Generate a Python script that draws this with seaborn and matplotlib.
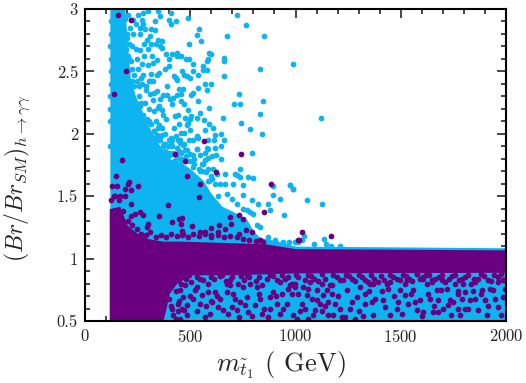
import numpy as np
import pandas as pd
import matplotlib
matplotlib.use('Agg')
import matplotlib.pyplot as plt
from matplotlib.ticker import MultipleLocator, FuncFormatter
import seaborn as sns

# Colours and ticks
blue_col = '#0EB4F0'
purple_col = '#6A0080'

# The solid areas can't be read point by point, so they are kept as envelopes
blue_env_x = [118, 190, 200, 215, 240, 280, 320, 350, 400, 450, 500, 560, 600, 650, 700, 770, 800, 830, 930, 1000, 2000]
blue_env_hi = [3.0, 3.0, 2.75, 2.45, 2.3, 2.15, 2.0, 1.92, 1.80, 1.78, 1.72, 1.63, 1.52, 1.42, 1.38, 1.31, 1.22, 1.17, 1.135, 1.10, 1.087]

purple_env_x = [115, 165, 200, 250, 300, 370, 450, 850, 1000, 2000]
purple_env_hi = [1.40, 1.42, 1.27, 1.20, 1.16, 1.14, 1.14, 1.12, 1.08, 1.07]
purple_low_x = [115, 370, 385, 400, 435, 500, 700, 1000, 2000]
purple_low_y = [0.5, 0.5, 0.60, 0.72, 0.80, 0.87, 0.87, 0.885, 0.89]

# Scattered points
blue_x = [720, 763, 673, 849, 988, 831, 659, 730, 845, 709, 738, 831, 654, 743, 785, 842, 647, 616, 609, 659,
          646, 614, 586, 617, 792, 736, 646, 622, 578, 534, 571, 587, 565, 589, 537, 578, 570, 598, 538, 659,
          662, 589, 597, 584, 578, 560, 581, 562, 541, 533, 552, 495, 489, 410, 434, 408, 400, 356, 331, 347,
          499, 477, 503, 533, 546, 491, 454, 472, 439, 467, 448, 511, 505, 458, 391, 431, 423, 437, 459, 470,
          499, 484, 513, 537, 382, 399, 350, 313, 277, 344, 325, 304, 385, 401, 415, 437, 435, 458, 480, 492,
          515, 321, 344, 348, 364, 339, 356, 367, 312, 285, 261, 332, 309, 277, 271, 299, 277, 253, 229, 356,
          372, 388, 404, 412, 420, 348, 364, 372, 385, 443, 427, 448, 423, 454, 472, 483, 491, 538, 515, 495,
          467, 475, 499, 451, 407, 412, 364, 344, 332, 586, 570, 546, 586, 570, 601, 530, 388, 404, 435, 443,
          610, 586, 554, 515, 451, 1122, 974, 990, 1056, 1124, 1040, 1033, 1135, 1088, 1145, 998, 1012, 1211,
          1171, 205, 215, 230, 210, 225, 240, 205, 220, 245, 262, 280, 295, 315, 270, 250, 235, 205, 225, 255,
          270, 290, 310, 330, 215, 240, 260, 285, 305, 325, 225, 250, 275, 295, 315, 335, 350, 300, 330, 355,
          380, 395, 420, 205, 210, 340, 320, 300, 280, 200, 240, 260, 300, 345, 365, 380, 400, 430, 455, 375,
          420, 480, 520, 380, 450]
blue_y = [2.95, 2.87, 2.78, 2.78, 2.56, 2.52, 2.46, 2.32, 2.26, 2.24, 2.24, 2.16, 2.13, 2.09, 2.04, 2.00, 2.00,
          1.99, 2.05, 1.95, 1.90, 1.95, 1.95, 1.89, 1.85, 1.72, 1.80, 1.83, 1.89, 1.98, 2.03, 2.08, 2.11, 2.21,
          2.26, 2.35, 2.40, 2.40, 2.37, 2.58, 2.61, 2.65, 2.64, 2.60, 2.58, 2.54, 2.51, 2.51, 2.84, 2.79, 2.74,
          2.72, 2.93, 2.97, 2.90, 2.88, 2.91, 2.94, 2.90, 2.98, 2.12, 2.13, 2.14, 2.13, 2.17, 2.19, 2.26, 2.24,
          2.31, 2.36, 2.36, 2.33, 2.31, 2.32, 2.38, 2.45, 2.46, 2.43, 2.50, 2.47, 2.45, 2.46, 2.50, 2.47, 2.52,
          2.54, 2.49, 2.48, 2.47, 2.47, 2.42, 2.42, 2.64, 2.60, 2.64, 2.65, 2.62, 2.62, 2.60, 2.60, 2.56, 2.57,
          2.59, 2.75, 2.74, 2.72, 2.70, 2.69, 2.84, 2.84, 2.80, 2.83, 2.78, 2.88, 2.91, 2.98, 2.97, 2.95, 2.91,
          2.28, 2.31, 2.31, 2.28, 2.24, 2.29, 2.21, 2.19, 2.15, 2.12, 2.15, 2.14, 2.08, 2.05, 2.01, 2.01, 2.07,
          2.09, 1.97, 1.95, 1.95, 1.91, 1.87, 1.84, 1.95, 1.97, 1.95, 1.99, 1.99, 1.97, 1.88, 1.85, 1.83, 1.81,
          1.79, 1.82, 1.88, 1.81, 1.83, 1.89, 1.81, 1.72, 1.72, 1.76, 1.73, 1.76, 2.13, 1.59, 1.56, 1.47, 1.44,
          1.18, 1.15, 1.16, 1.12, 1.12, 1.13, 1.13, 1.10, 1.10, 2.95, 2.85, 2.80, 2.72, 2.70, 2.68, 2.62, 2.58,
          2.60, 2.67, 2.72, 2.75, 2.72, 2.56, 2.52, 2.47, 2.50, 2.42, 2.38, 2.40, 2.35, 2.32, 2.33, 2.30, 2.25,
          2.22, 2.25, 2.20, 2.27, 2.18, 2.12, 2.15, 2.12, 2.08, 2.10, 2.07, 2.02, 2.02, 1.95, 1.92, 1.90, 1.85,
          2.20, 2.38, 2.34, 2.62, 2.55, 2.62, 2.77, 2.88, 2.85, 2.68, 2.05, 2.05, 2.00, 1.95, 1.98, 1.80, 1.75,
          1.76, 1.78, 1.80, 1.86, 1.93]

# Edge of the blue cloud
blue_edge_x = [122, 120, 124, 119, 121, 123, 120, 122, 125, 121, 190, 198, 185, 195, 200, 188, 203, 192, 207, 197,
               215, 225, 235, 245, 255, 265, 275, 290, 305, 315, 330, 345, 360, 375, 385, 400, 415, 430, 445, 460,
               480, 500, 520, 540, 555, 365, 395, 425, 455, 485, 515, 545, 575, 600, 630, 350, 370, 410, 440, 470,
               500, 530, 560, 590, 225, 245, 265, 290, 310, 330, 350]
blue_edge_y = [2.9, 2.7, 2.5, 2.3, 2.1, 2.8, 1.9, 2.6, 2.4, 2.2, 2.92, 2.8, 2.68, 2.6, 2.42, 2.5, 2.3, 2.35, 2.6, 2.68,
               2.35, 2.3, 2.38, 2.18, 2.3, 2.25, 2.08, 2.05, 2.1, 1.98, 2.02, 1.95, 1.98, 1.92, 1.85, 1.85, 1.9, 1.82, 1.86, 1.8,
               1.82, 1.78, 1.76, 1.72, 1.7, 1.78, 1.78, 1.78, 1.85, 1.87, 1.83, 1.70, 1.69, 1.66, 1.5, 1.95, 1.9, 1.92, 1.95, 1.92,
               2.03, 1.88, 1.76, 1.62, 2.52, 2.42, 2.45, 2.38, 2.42, 2.18, 2.22]

# Loose blue dots right of the solid area, x 600-1000
blue_loose_x = [720, 736, 776, 796, 704, 752, 673, 696, 720, 752, 791, 823, 870, 879, 926, 945, 891, 894, 974, 989,
                870, 902, 831, 815, 641, 665, 617, 625, 665, 712, 601, 586, 752, 768, 784, 799, 970, 942]
blue_loose_y = [1.67, 1.657, 1.65, 1.643, 1.60, 1.59, 1.52, 1.48, 1.44, 1.51, 1.47, 1.44, 1.44, 1.39, 1.475, 1.35, 1.51, 1.58, 1.59, 1.56,
                1.175, 1.15, 1.256, 1.27, 1.60, 1.60, 1.60, 1.68, 1.68, 1.68, 1.64, 1.62, 1.40, 1.39, 1.375, 1.36, 1.135, 1.135]

purple_x = [158, 220, 193, 139, 563, 427, 477, 739, 174, 1030, 1017, 1169,
            149, 483, 624, 883, 209, 203, 128, 153, 250, 190, 217, 548, 541, 396, 220, 350, 849, 733, 752, 690,
            446, 459, 413, 456, 510, 695, 636, 600, 666, 763, 795, 733, 546, 570, 600, 630, 300, 293, 277, 261,
            237, 217, 190, 166, 142, 833, 1013, 459, 467,
            998, 1034, 1053, 1077, 1029, 1045, 1101, 1093, 1061, 1116, 1132, 1156, 1172, 1188, 1211, 1148, 1124,
            1243, 1259, 1283, 1291, 1306, 1330, 1362, 1370, 1393, 1417, 1425, 1441, 1481, 1496, 1488, 1520, 1560,
            1568, 1591, 1576, 1607, 1647, 1639, 1678, 1694, 1734, 1718, 1758, 1797, 1805, 1773, 1829, 1853, 1868,
            1900, 1924, 1940, 1963, 1987, 1963, 1987, 1908, 1781, 1678, 1655, 1607, 1576, 1702, 1726, 1750, 1180,
            1156, 1235, 1101, 1069, 1006, 1370, 1449, 1528, 1853, 1884, 1773, 1805, 1623, 1671, 1354, 1330, 1520,
            451, 467, 443, 483, 514, 522, 554, 586, 617, 601, 641, 673, 689, 712, 736, 760, 720, 696, 776, 807,
            839, 879, 894, 910, 934, 974, 981, 958, 997, 989, 926, 570, 483, 451, 633, 594, 831, 879, 815, 784,
            752, 673, 530, 475]
purple_y = [2.95, 2.91, 2.50, 2.32, 1.94, 1.84, 1.78, 1.84, 1.79, 1.21, 1.15, 1.18,
            1.665, 1.66, 1.69, 1.60, 1.61, 1.60, 1.58, 1.585, 1.58, 1.56, 1.55, 1.595, 1.49, 1.43, 1.44, 1.34,
            1.375, 1.35, 1.32, 1.33, 1.32, 1.325, 1.29, 1.275, 1.26, 1.28, 1.27, 1.245, 1.24, 1.23, 1.215, 1.20,
            1.21, 1.21, 1.19, 1.21, 1.28, 1.25, 1.35, 1.37, 1.36, 1.34, 1.50, 1.50, 1.50, 1.146, 1.146, 1.22, 1.20,
            0.80, 0.775, 0.71, 0.68, 0.64, 0.60, 0.67, 0.59, 0.52, 0.64, 0.71, 0.655, 0.79, 0.64, 0.60, 0.75, 0.80,
            0.75, 0.60, 0.52, 0.695, 0.775, 0.72, 0.655, 0.80, 0.815, 0.67, 0.615, 0.76, 0.60, 0.75, 0.655, 0.71,
            0.75, 0.655, 0.67, 0.88, 0.855, 0.815, 0.68, 0.67, 0.83, 0.67, 0.76, 0.80, 0.80, 0.60, 0.60, 0.67, 0.68,
            0.59, 0.67, 0.76, 0.75, 0.815, 0.83, 0.615, 0.695, 0.55, 0.55, 0.575, 0.575, 0.575, 0.59, 0.60, 0.63,
            0.655, 0.55, 0.55, 0.535, 0.75, 0.815, 0.52, 0.55, 0.815, 0.83, 0.815, 0.75, 0.72, 0.735, 0.80, 0.75,
            0.80, 0.64, 0.80,
            0.75, 0.695, 0.64, 0.63, 0.68, 0.75, 0.71, 0.735, 0.735, 0.655, 0.68, 0.735, 0.79, 0.68, 0.655, 0.63,
            0.59, 0.615, 0.575, 0.63, 0.56, 0.60, 0.735, 0.64, 0.72, 0.79, 0.72, 0.64, 0.775, 0.55, 0.56, 0.535,
            0.55, 0.52, 0.615, 0.56, 0.68, 0.695, 0.775, 0.80, 0.775, 0.80, 0.775, 0.79]

# Jagged lower edge of the purple band
purple_low_edge_x = [410, 430, 455, 480, 505, 530, 560, 585, 615, 640, 670, 700, 725, 755, 780, 810, 840, 865, 895, 925,
                     950, 985, 1010, 1045, 1075, 1105, 1140, 1165, 1195, 1225, 1255, 1285, 1315, 1345, 1375, 1405, 1435,
                     1465, 1495, 1525, 1555, 1590, 1620, 1650, 1680, 1710, 1745, 1775, 1805, 1835, 1865, 1895, 1930, 1960, 1990,
                     440, 495, 545, 600, 650, 690, 740, 770, 825, 880, 910, 935, 965, 1000, 1060, 1090, 1125, 1180, 1210, 1240,
                     1270, 1300, 1330, 1360, 1420, 1450, 1480, 1510, 1540, 1575, 1605, 1635, 1665, 1695, 1730, 1760, 1790, 1820,
                     1850, 1880, 1915, 1945, 1975]
purple_low_edge_y = [.62, .74, .80, .84, .81, .85, .83, .80, .84, .86, .82, .85, .80, .83, .85, .82, .79, .84, .86, .81,
                     .84, .80, .85, .83, .86, .82, .84, .79, .85, .83, .86, .82, .85, .81, .84, .86, .80,
                     .85, .83, .86, .82, .84, .87, .83, .85, .81, .86, .83, .85, .80, .84, .86, .82, .85, .83,
                     .83, .87, .84, .85, .87, .83, .86, .87, .85, .87, .83, .87, .85, .87, .87, .84, .88, .87, .83, .87,
                     .84, .87, .83, .87, .83, .87, .84, .87, .84, .88, .84, .87, .84, .87, .84, .87, .84, .87,
                     .84, .88, .83, .87, .88]

# Purple dots inside the blue strip at the bottom
purple_mid_x = [420, 440, 470, 500, 530, 545, 575, 600, 625, 655, 680, 705, 730, 770, 795, 825, 850, 870, 905, 940,
                965, 1010, 1020, 1060, 1085, 1125, 1140, 1175, 1200, 1220, 1270, 1300, 1320, 1350, 1380, 1410, 1450,
                1470, 1505, 1535, 1550, 1600, 1630, 1660, 1690, 1740, 1770, 1790, 1820, 1845, 1880, 1915, 1950, 1975,
                1995, 400, 415, 430, 445, 460]
purple_mid_y = [.55, .58, .59, .70, .58, .64, .62, .66, .70, .59, .56, .72, .53, .69, .54, .72, .60, .53, .70, .60,
                .76, .72, .58, .76, .55, .58, .62, .72, .70, .53, .65, .58, .54, .74, .68, .74, .55,
                .70, .56, .64, .72, .54, .72, .62, .75, .55, .74, .68, .60, .74, .72, .62, .68, .55,
                .76, .68, .60, .52, .66, .60]

# Bumpy top of the purple band
purple_top_x = [125, 140, 160, 180, 205, 225, 245, 265, 290, 310, 335, 360, 385, 410, 435, 460, 490, 515, 540, 570,
                600, 630, 660, 690, 720, 750, 780, 810, 845]
purple_top_y = [1.47, 1.50, 1.47, 1.38, 1.30, 1.27, 1.24, 1.20, 1.19, 1.21, 1.17, 1.19, 1.17, 1.20, 1.18, 1.19, 1.17, 1.20, 1.18, 1.20,
                1.17, 1.19, 1.17, 1.18, 1.17, 1.16, 1.15, 1.14, 1.13]

x_ticks = [0, 500, 1000, 1500, 2000]
y_ticks = [0.5, 1, 1.5, 2, 2.5, 3]

sns.set_style('ticks')
plt.rcParams['font.family'] = ['cmr10', 'DejaVu Sans']
plt.rcParams['mathtext.fontset'] = 'cm'
plt.rcParams['axes.formatter.use_mathtext'] = True
plt.rcParams['axes.unicode_minus'] = False

fig = plt.figure(figsize=(5.26, 3.83), dpi=100)
ax = fig.add_axes([85 / 526, 1 - 321 / 383, 421 / 526, 312 / 383])

# Blue layer first, purple goes over it
ax.fill_between(blue_env_x, 0.5, blue_env_hi, color=blue_col, lw=0, zorder=1)
sns.scatterplot(x=blue_x + blue_edge_x + blue_loose_x, y=blue_y + blue_edge_y + blue_loose_y,
                color=blue_col, s=17, linewidth=0, ax=ax, zorder=1.1)

# Interpolate the purple edges onto one x grid for the fill
purple_grid = sorted(set(purple_env_x + purple_low_x))
purple_hi = np.interp(purple_grid, purple_env_x, purple_env_hi)
purple_lo = np.interp(purple_grid, purple_low_x, purple_low_y)
ax.fill_between(purple_grid, purple_lo, purple_hi, color=purple_col, lw=0, zorder=1.2)
sns.scatterplot(x=purple_x + purple_low_edge_x + purple_mid_x + purple_top_x,
                y=purple_y + purple_low_edge_y + purple_mid_y + purple_top_y,
                color=purple_col, s=17, linewidth=0, ax=ax, zorder=1.3)

ax.set_xlim(0, 2000)
ax.set_ylim(0.5, 3)
ax.set_xticks(x_ticks)
ax.set_yticks(y_ticks)
ax.xaxis.set_minor_locator(MultipleLocator(100))
ax.yaxis.set_minor_locator(MultipleLocator(0.1))
ax.yaxis.set_major_formatter(FuncFormatter(lambda v, p: f'{v:g}'))
ax.tick_params(which='both', direction='in', top=True, right=True, width=1.2, labelsize=12, pad=5)
ax.tick_params(which='major', length=6.5)
ax.tick_params(which='minor', length=3.5)
for s in ax.spines.values():
    s.set_linewidth(1.5)
    s.set_color('black')

ax.set_xlabel(r'$m_{\tilde{t}_1}$ ( GeV)', fontsize=19)
ax.set_ylabel(r'$(Br/Br_{SM})_{h\rightarrow\gamma\gamma}$', fontsize=17)
ax.xaxis.set_label_coords(0.466, -0.09)
ax.yaxis.set_label_coords(-0.125, 0.458)

fig.savefig('out.png', dpi=100)
